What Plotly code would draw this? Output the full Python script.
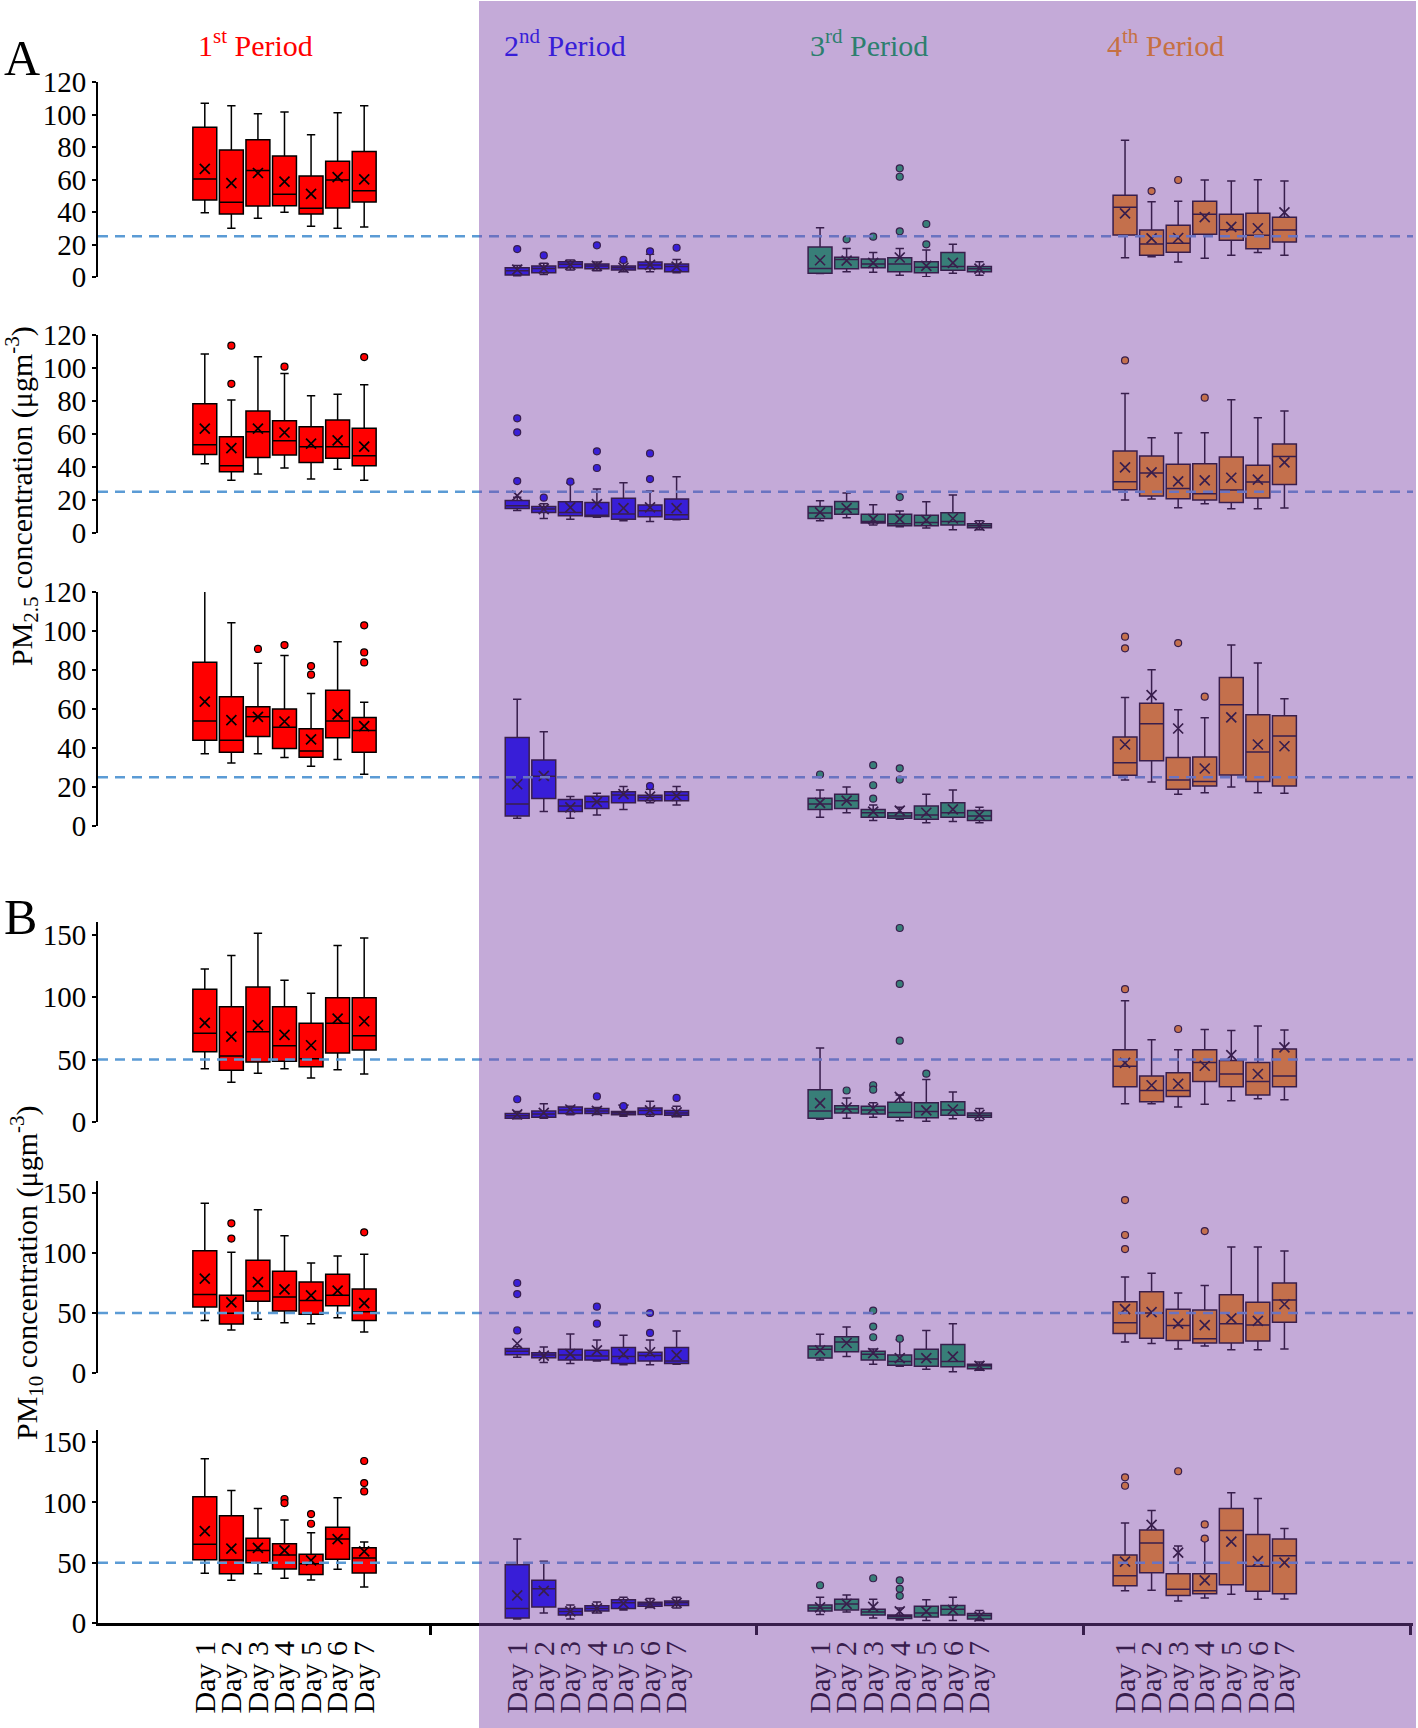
import plotly.graph_objects as go

# ---------------- data ----------------
DAYS = ["Day 1", "Day 2", "Day 3", "Day 4", "Day 5", "Day 6", "Day 7"]
PERIOD_TITLES = ["1<sup>st</sup> Period", "2<sup>nd</sup> Period", "3<sup>rd</sup> Period", "4<sup>th</sup> Period"]

# Panel A1 (PM2.5, top) -- each list: [period1, period2, period3, period4] x 7 days
A1_LO = [[39.6, 30.0, 36.1, 39.8, 31.2, 30.0, 30.8], [0.8, 1.6, 4.3, 3.9, 3.3, 3.3, 2.6],
         [2.2, 3.3, 2.9, 1.0, 0.2, 2.3, 1.0], [11.9, 12.5, 9.2, 11.5, 13.4, 15.0, 13.4]]
A1_Q1 = [[47.4, 38.8, 43.7, 43.9, 38.8, 42.5, 46.2], [1.2, 2.6, 5.7, 5.1, 4.3, 5.1, 3.3],
         [2.3, 5.1, 5.7, 3.3, 2.6, 4.1, 3.3], [25.8, 13.4, 15.2, 26.3, 22.6, 17.4, 21.5]]
A1_MED = [[60.3, 46.0, 65.6, 50.9, 42.3, 59.7, 53.1], [3.9, 5.3, 7.8, 6.8, 5.7, 7.4, 6.4],
          [5.3, 10.8, 8.0, 8.0, 6.0, 6.4, 5.1], [42.9, 20.3, 20.7, 38.6, 29.1, 25.7, 28.9]]
A1_Q3 = [[92.1, 78.2, 84.5, 74.5, 62.2, 71.2, 77.3], [5.7, 6.8, 9.4, 8.0, 6.8, 9.2, 8.0],
         [18.5, 12.1, 11.1, 11.9, 9.4, 15.0, 6.4], [50.3, 28.9, 31.8, 46.6, 38.6, 39.2, 36.7]]
A1_HI = [[106.9, 105.4, 100.5, 101.5, 87.6, 101.1, 105.4], [7.0, 8.4, 10.5, 9.2, 9.4, 14.0, 10.7],
         [30.3, 17.6, 15.0, 17.6, 16.6, 20.1, 9.4], [84.1, 46.3, 46.6, 59.7, 59.1, 59.9, 59.1]]
A1_MEAN = [[66.5, 57.8, 64.0, 58.7, 51.1, 61.5, 60.1], [4.5, 5.3, 7.4, 6.8, 5.7, 7.4, 6.4],
           [10.3, 10.1, 8.7, 12.0, 6.8, 8.7, 5.1], [39.2, 23.8, 24.0, 36.9, 30.8, 30.0, 39.8]]
A1_OUT = [(2, 1, 17.2), (2, 2, 13.3), (2, 4, 19.5), (2, 5, 10.5), (2, 6, 15.8), (2, 7, 18.0),
          (3, 2, 23.2), (3, 3, 24.8), (3, 4, 66.9), (3, 4, 61.7), (3, 4, 28.1), (3, 5, 32.6), (3, 5, 20.1),
          (4, 2, 52.9), (4, 3, 59.7)]

# Panel A2 (PM2.5, middle)
A2_LO = [[42.0, 31.9, 35.8, 39.4, 32.7, 38.6, 31.9], [13.7, 8.8, 8.4, 9.6, 7.4, 7.0, 8.0],
         [7.4, 9.2, 4.8, 3.8, 3.0, 2.0, 2.0], [20.0, 20.6, 15.3, 17.7, 14.7, 14.7, 15.1]]
A2_Q1 = [[47.6, 37.1, 45.7, 47.2, 42.7, 45.3, 40.7], [14.9, 12.5, 10.4, 10.0, 8.4, 9.8, 8.4],
         [8.8, 11.3, 6.0, 4.4, 4.4, 4.8, 3.2], [26.2, 22.4, 20.8, 20.0, 18.5, 21.2, 29.4]]
A2_MED = [[53.5, 40.7, 61.3, 55.9, 52.2, 52.2, 46.8], [16.5, 14.5, 12.5, 10.8, 11.5, 13.5, 11.1],
          [12.1, 14.5, 7.0, 5.6, 6.4, 7.0, 4.4], [31.1, 36.3, 27.0, 23.8, 26.0, 30.9, 46.4]]
A2_Q3 = [[78.4, 58.3, 73.9, 68.0, 64.4, 68.5, 63.5], [19.7, 16.1, 18.9, 18.5, 21.0, 16.9, 20.6],
         [16.1, 19.1, 11.3, 11.3, 10.8, 12.3, 5.6], [49.7, 46.6, 41.6, 42.0, 46.0, 41.0, 53.9]]
A2_HI = [[108.5, 80.6, 106.8, 96.6, 83.2, 84.1, 89.9], [21.6, 17.7, 30.3, 26.6, 30.5, 25.4, 34.1],
         [19.5, 24.2, 17.1, 13.3, 18.9, 23.0, 7.4], [84.6, 57.7, 60.6, 60.8, 80.8, 69.9, 73.9]]
A2_MEAN = [[63.2, 51.4, 63.3, 60.9, 54.2, 56.1, 52.4], [22.6, 14.5, 15.5, 17.5, 15.1, 15.5, 15.1],
           [12.5, 15.1, 8.4, 8.4, 7.8, 8.8, 4.4], [39.8, 36.7, 31.3, 31.9, 33.5, 32.3, 42.8]]
A2_OUT = [(1, 2, 113.5), (1, 2, 90.4), (1, 4, 100.8), (1, 7, 106.6),
          (2, 1, 69.5), (2, 1, 61.0), (2, 1, 31.5), (2, 2, 21.4), (2, 3, 31.1), (2, 4, 49.5), (2, 4, 39.4),
          (2, 6, 48.2), (2, 6, 32.7), (3, 4, 21.8), (4, 1, 104.6), (4, 4, 82.0)]

# Panel A3 (PM2.5, bottom)
A3_LO = [[37.1, 32.3, 37.1, 35.1, 30.7, 34.1, 26.6], [4.0, 7.4, 4.0, 5.7, 8.5, 11.9, 10.8],
         [4.5, 6.8, 2.8, 3.4, 1.7, 2.3, 1.7], [23.6, 22.6, 16.3, 17.1, 20.0, 17.1, 16.8]]
A3_Q1 = [[44.0, 37.8, 45.9, 39.8, 35.2, 45.3, 37.8], [5.1, 14.1, 7.4, 9.0, 11.9, 13.0, 13.0],
         [8.5, 9.0, 4.5, 4.0, 3.4, 4.5, 2.8], [26.0, 33.4, 18.8, 20.5, 26.2, 22.8, 20.5]]
A3_MED = [[53.9, 44.0, 56.0, 50.6, 38.4, 53.9, 49.0], [11.3, 25.5, 10.2, 12.4, 15.9, 14.6, 15.8],
          [11.3, 13.0, 6.8, 5.1, 5.7, 6.8, 5.1], [32.4, 52.4, 23.6, 22.8, 62.2, 38.0, 46.2]]
A3_Q3 = [[84.0, 66.3, 61.1, 60.0, 49.9, 69.6, 55.6], [45.4, 33.9, 13.6, 15.3, 17.6, 15.8, 17.6],
         [14.2, 16.3, 8.5, 6.8, 10.2, 11.9, 7.9], [45.7, 63.0, 35.1, 35.4, 76.2, 57.0, 56.5]]
A3_HI = [[120.5, 104.2, 83.5, 87.5, 67.9, 94.5, 63.5], [65.0, 48.3, 15.1, 16.8, 20.2, 18.8, 20.2],
         [18.5, 20.0, 10.8, 9.6, 16.3, 18.5, 9.6], [65.9, 80.1, 59.6, 55.5, 92.8, 83.6, 65.2]]
A3_MEAN = [[63.8, 54.3, 56.0, 53.6, 44.4, 57.2, 51.2], [21.4, 25.7, 9.6, 12.4, 16.3, 15.1, 15.4],
           [11.9, 13.0, 7.4, 7.9, 6.8, 8.5, 5.7], [41.8, 67.1, 50.0, 29.5, 55.7, 41.8, 40.9]]
A3_OUT = [(1, 3, 90.8), (1, 4, 92.8), (1, 5, 82.0), (1, 5, 77.6), (1, 7, 102.9), (1, 7, 89.0), (1, 7, 83.9),
          (2, 6, 20.5), (3, 1, 26.4), (3, 3, 31.2), (3, 3, 20.9), (3, 3, 14.0), (3, 4, 29.6), (3, 4, 23.8),
          (4, 1, 97.1), (4, 1, 91.1), (4, 3, 93.8), (4, 4, 66.3)]

# Panel B1 (PM10, top)
B1_LO = [[42.7, 31.8, 39.0, 42.7, 35.2, 41.9, 38.4], [2.7, 3.0, 5.8, 6.1, 4.6, 4.6, 4.2],
         [2.3, 3.1, 3.9, 1.1, 0.7, 2.7, 1.2], [14.7, 14.7, 12.0, 14.3, 17.0, 18.6, 17.8]]
B1_Q1 = [[56.3, 41.4, 48.0, 48.6, 44.3, 55.2, 57.6], [3.1, 3.9, 6.9, 6.9, 5.8, 6.1, 5.4],
         [3.1, 7.3, 6.5, 3.9, 3.4, 5.4, 3.9], [28.3, 16.2, 20.5, 32.5, 28.3, 21.7, 28.3]]
B1_MED = [[71.0, 52.8, 72.3, 61.1, 50.7, 79.0, 69.1], [5.0, 6.5, 9.6, 8.9, 7.3, 9.3, 7.3],
          [8.9, 10.4, 9.6, 7.7, 8.5, 9.6, 5.4], [44.6, 25.2, 25.2, 47.7, 38.4, 32.5, 36.8]]
B1_Q3 = [[106.2, 92.3, 108.1, 92.3, 79.0, 99.5, 99.5], [6.9, 8.9, 12.0, 10.8, 8.5, 11.2, 9.3],
         [25.9, 13.1, 12.7, 15.9, 15.5, 16.2, 7.3], [57.8, 36.8, 39.5, 57.8, 49.2, 47.7, 58.5]]
B1_HI = [[122.5, 133.2, 151.0, 113.4, 103.0, 141.2, 147.3], [8.5, 14.7, 12.7, 11.6, 11.6, 16.6, 12.7],
         [59.3, 19.3, 15.5, 21.7, 34.1, 24.0, 10.8], [97.0, 65.9, 57.8, 74.1, 73.3, 76.8, 73.7]]
B1_MEAN = [[79.3, 68.3, 77.4, 69.7, 61.4, 82.7, 80.6], [6.1, 7.3, 10.0, 8.9, 10.0, 9.3, 7.7],
           [15.1, 11.6, 10.8, 20.1, 9.3, 10.0, 5.8], [47.3, 29.4, 30.6, 45.0, 53.5, 38.4, 59.7]]
B1_OUT = [(2, 1, 18.2), (2, 4, 20.5), (2, 5, 12.7), (2, 7, 19.3),
          (3, 2, 25.2), (3, 3, 29.4), (3, 3, 25.9), (3, 4, 155.2), (3, 4, 110.5), (3, 4, 65.1), (3, 5, 38.7),
          (4, 1, 106.3), (4, 3, 74.4)]

# Panel B2 (PM10, middle)
B2_LO = [[43.8, 35.8, 44.7, 41.9, 41.1, 46.1, 34.2], [13.2, 8.8, 8.0, 10.0, 6.8, 6.8, 7.2],
         [10.8, 13.7, 7.2, 5.6, 3.1, 1.1, 2.3], [25.8, 24.6, 20.1, 22.5, 19.3, 19.3, 20.1]]
B2_Q1 = [[55.0, 40.8, 59.7, 51.7, 48.9, 56.1, 43.8], [15.3, 12.8, 10.8, 10.8, 8.0, 10.0, 8.0],
         [12.4, 17.7, 10.8, 6.4, 5.6, 5.2, 3.6], [33.0, 29.0, 27.0, 25.0, 25.0, 26.6, 42.3]]
B2_MED = [[65.5, 49.7, 68.3, 63.3, 60.5, 64.7, 51.1], [18.1, 14.9, 14.9, 14.1, 13.7, 14.5, 10.0],
          [19.7, 25.8, 15.7, 9.6, 11.6, 9.6, 6.0], [41.9, 50.0, 39.5, 28.6, 41.1, 39.9, 60.9]]
B2_Q3 = [[101.9, 64.7, 93.9, 84.7, 75.8, 82.2, 70.0], [20.5, 16.9, 19.7, 18.9, 21.3, 17.3, 21.3],
         [22.5, 30.2, 18.1, 14.9, 19.7, 23.7, 7.2], [59.3, 67.8, 53.2, 52.4, 65.3, 58.9, 75.0]]
B2_HI = [[141.4, 100.6, 136.1, 114.4, 91.7, 97.5, 98.9], [22.0, 21.7, 32.6, 27.4, 31.4, 27.4, 35.1],
         [32.2, 38.3, 20.1, 27.8, 35.5, 41.1, 9.2], [79.9, 83.1, 66.6, 73.0, 104.9, 104.9, 101.7]]
B2_MEAN = [[78.6, 58.8, 75.8, 69.7, 64.7, 68.6, 58.3], [24.6, 14.5, 15.7, 18.9, 15.7, 17.3, 14.9],
           [18.9, 25.0, 16.5, 12.4, 12.4, 13.7, 6.0], [53.2, 50.8, 41.1, 39.9, 45.6, 43.5, 57.3]]
B2_OUT = [(1, 2, 124.7), (1, 2, 112.0), (1, 7, 117.2),
          (2, 1, 75.0), (2, 1, 65.8), (2, 1, 35.5), (2, 4, 55.3), (2, 4, 41.1), (2, 6, 50.0), (2, 6, 33.4),
          (3, 3, 52.0), (3, 3, 38.7), (3, 3, 29.8), (3, 4, 28.6),
          (4, 1, 144.1), (4, 1, 115.0), (4, 1, 103.3), (4, 4, 118.3)]

# Panel B3 (PM10, bottom)
B3_LO = [[41.2, 35.4, 40.9, 37.0, 35.6, 44.5, 29.8], [3.3, 8.3, 3.3, 8.3, 10.8, 12.9, 12.5],
         [7.1, 9.2, 4.2, 2.5, 2.1, 2.1, 2.1], [26.7, 27.1, 18.3, 20.8, 23.8, 19.6, 20.0]]
B3_Q1 = [[52.5, 40.9, 50.0, 44.8, 40.3, 52.8, 41.4], [4.2, 13.3, 6.7, 10.0, 12.1, 13.8, 14.6],
         [10.0, 10.8, 6.7, 3.8, 5.0, 6.7, 3.3], [30.8, 41.7, 22.9, 24.2, 31.7, 26.3, 24.2]]
B3_MED = [[65.2, 52.2, 60.2, 56.4, 49.2, 69.6, 53.9], [12.1, 28.3, 9.6, 12.1, 16.7, 15.8, 16.7],
          [12.5, 15.8, 9.2, 5.4, 8.3, 11.3, 6.3], [39.2, 66.3, 27.9, 26.7, 76.7, 47.1, 55.8]]
B3_Q3 = [[104.7, 88.9, 70.2, 65.7, 56.9, 79.3, 62.4], [48.3, 35.4, 12.1, 14.2, 19.2, 17.1, 18.3],
         [15.0, 19.6, 11.3, 6.7, 13.8, 14.6, 7.9], [56.3, 77.1, 40.8, 40.8, 95.0, 73.3, 69.6]]
B3_HI = [[136.2, 109.9, 95.0, 85.4, 74.9, 103.9, 67.1], [69.6, 51.2, 15.0, 17.5, 21.3, 20.4, 21.3],
         [21.3, 23.3, 19.6, 12.5, 19.2, 21.3, 10.4], [82.9, 93.3, 63.8, 68.8, 107.9, 103.3, 78.3]]
B3_MEAN = [[76.2, 61.6, 62.2, 60.2, 51.9, 69.6, 59.4], [22.9, 26.7, 9.6, 12.1, 16.3, 15.8, 16.7],
           [12.9, 15.8, 13.3, 9.6, 9.6, 10.8, 5.4], [50.8, 81.3, 58.3, 35.4, 67.5, 51.3, 50.0]]
B3_OUT = [(1, 4, 102.8), (1, 4, 99.4), (1, 5, 90.3), (1, 5, 82.3), (1, 7, 134.3), (1, 7, 116.0), (1, 7, 109.1),
          (3, 1, 31.3), (3, 3, 37.1), (3, 4, 35.4), (3, 4, 28.3), (3, 4, 22.5),
          (4, 1, 120.8), (4, 1, 113.8), (4, 3, 125.8), (4, 4, 81.7), (4, 4, 70.0)]

PM25_LIMIT = 25
PM10_LIMIT = 50

# ---------------- style / layout constants ----------------
W, H = 1418, 1728
FONT = "Liberation Serif"
BOX_COLORS = ["#FF0000", "#0000FF", "#00B050", "#FF9600"]
TITLE_COLORS = ["#FF0000", "rgb(56,30,216)", "rgb(45,127,110)", "rgb(198,112,66)"]
TITLE_X = [255, 565, 869, 1165]
X_L, X_R = 98, 1413
XMAX = 49.5
PERIOD_CENTER = [7.02, 18.78, 30.18, 41.66]
BOUNDS = [12.5, 24.8, 37.11, 49.42]

panels = [
    dict(lo=A1_LO, q1=A1_Q1, med=A1_MED, q3=A1_Q3, hi=A1_HI, mean=A1_MEAN, out=A1_OUT,
         ymax=120, ticks=[0, 20, 40, 60, 80, 100, 120], limit=PM25_LIMIT, top=82, bottom=277),
    dict(lo=A2_LO, q1=A2_Q1, med=A2_MED, q3=A2_Q3, hi=A2_HI, mean=A2_MEAN, out=A2_OUT,
         ymax=120, ticks=[0, 20, 40, 60, 80, 100, 120], limit=PM25_LIMIT, top=335, bottom=533),
    dict(lo=A3_LO, q1=A3_Q1, med=A3_MED, q3=A3_Q3, hi=A3_HI, mean=A3_MEAN, out=A3_OUT,
         ymax=120, ticks=[0, 20, 40, 60, 80, 100, 120], limit=PM25_LIMIT, top=592, bottom=826),
    dict(lo=B1_LO, q1=B1_Q1, med=B1_MED, q3=B1_Q3, hi=B1_HI, mean=B1_MEAN, out=B1_OUT,
         ymax=160, ticks=[0, 50, 100, 150], limit=PM10_LIMIT, top=922, bottom=1122),
    dict(lo=B2_LO, q1=B2_Q1, med=B2_MED, q3=B2_Q3, hi=B2_HI, mean=B2_MEAN, out=B2_OUT,
         ymax=160, ticks=[0, 50, 100, 150], limit=PM10_LIMIT, top=1181, bottom=1373),
    dict(lo=B3_LO, q1=B3_Q1, med=B3_MED, q3=B3_Q3, hi=B3_HI, mean=B3_MEAN, out=B3_OUT,
         ymax=160, ticks=[0, 50, 100, 150], limit=PM10_LIMIT, top=1430, bottom=1623),
]

fig = go.Figure()
all_pos = [PERIOD_CENTER[k] + d - 3 for k in range(4) for d in range(7)]
all_txt = DAYS * 4
shapes = []
layout_axes = {}

for i, p in enumerate(panels, start=1):
    xa = "x" if i == 1 else f"x{i}"
    ya = "y" if i == 1 else f"y{i}"
    for k in range(4):
        xs = [PERIOD_CENTER[k] + d - 3 for d in range(7)]
        fig.add_trace(go.Box(
            x=xs, q1=p["q1"][k], median=p["med"][k], q3=p["q3"][k],
            lowerfence=p["lo"][k], upperfence=p["hi"][k],
            width=0.9, whiskerwidth=0.35, boxpoints=False,
            fillcolor=BOX_COLORS[k], line=dict(color="black", width=1.5),
            xaxis=xa, yaxis=ya, showlegend=False, hoverinfo="skip"))
        fig.add_trace(go.Scatter(
            x=xs, y=p["mean"][k], mode="markers",
            marker=dict(symbol="x-thin", size=10, line=dict(width=1.7, color="black")),
            xaxis=xa, yaxis=ya, showlegend=False, hoverinfo="skip"))
        ox = [PERIOD_CENTER[k] + d - 4 for (pp, d, v) in p["out"] if pp == k + 1]
        oy = [v for (pp, d, v) in p["out"] if pp == k + 1]
        if ox:
            fig.add_trace(go.Scatter(
                x=ox, y=oy, mode="markers",
                marker=dict(symbol="circle", size=7, color=BOX_COLORS[k],
                            line=dict(width=1.2, color="black")),
                xaxis=xa, yaxis=ya, showlegend=False, hoverinfo="skip", cliponaxis=False))
    last = (i == len(panels))
    xdict = dict(domain=[X_L / W, X_R / W], range=[0, XMAX], anchor=ya,
                 showgrid=False, zeroline=False, showline=last, linecolor="black", linewidth=3,
                 tickmode="array", tickvals=all_pos, ticktext=all_txt, tickangle=-90,
                 showticklabels=last, ticks="", ticklabelstandoff=3,
                 tickfont=dict(family=FONT, size=30, color="black"))
    if last:
        xdict["minor"] = dict(tickmode="array", tickvals=BOUNDS, ticks="outside",
                              ticklen=9, tickwidth=2.5, tickcolor="black", showgrid=False)
    ydict = dict(domain=[1 - p["bottom"] / H, 1 - p["top"] / H], range=[0, p["ymax"]], anchor=xa,
                 showgrid=False, zeroline=False, showline=True, linecolor="black", linewidth=2,
                 tickmode="array", tickvals=p["ticks"], ticks="outside", ticklen=4, tickwidth=2,
                 tickcolor="black", tickfont=dict(family=FONT, size=29, color="black"))
    layout_axes["xaxis" if i == 1 else f"xaxis{i}"] = xdict
    layout_axes["yaxis" if i == 1 else f"yaxis{i}"] = ydict
    shapes.append(dict(type="line", xref="paper", yref=ya, x0=X_L / W, x1=X_R / W,
                       y0=p["limit"], y1=p["limit"], layer="above",
                       line=dict(color="#5B9BD5", width=2.5, dash="10px,7px")))

# purple translucent overlay for periods 2-4
shapes.append(dict(type="rect", xref="paper", yref="paper", x0=479 / W, x1=1416 / W,
                   y0=0, y1=1 - 1 / H, layer="above", line=dict(width=0),
                   fillcolor="rgba(124,67,169,0.45)"))

annotations = []
for k in range(4):
    annotations.append(dict(text=PERIOD_TITLES[k], x=TITLE_X[k] / W, y=1 - 43 / H, xref="paper", yref="paper",
                            showarrow=False, xanchor="center", yanchor="middle",
                            font=dict(family=FONT, size=30, color=TITLE_COLORS[k])))
annotations.append(dict(text="A", x=2 / W, y=1 - 58 / H, xref="paper", yref="paper", showarrow=False,
                        xanchor="left", yanchor="middle", font=dict(family=FONT, size=50, color="black")))
annotations.append(dict(text="B", x=2 / W, y=1 - 917 / H, xref="paper", yref="paper", showarrow=False,
                        xanchor="left", yanchor="middle", font=dict(family=FONT, size=50, color="black")))
annotations.append(dict(text="PM<sub>2.5</sub> concentration (μgm<sup>-3</sup>)", textangle=-90,
                        x=22 / W, y=1 - 496 / H, xref="paper", yref="paper", showarrow=False,
                        xanchor="center", yanchor="middle", font=dict(family=FONT, size=30, color="black")))
annotations.append(dict(text="PM<sub>10</sub> concentration (μgm<sup>-3</sup>)", textangle=-90,
                        x=26 / W, y=1 - 1273 / H, xref="paper", yref="paper", showarrow=False,
                        xanchor="center", yanchor="middle", font=dict(family=FONT, size=30, color="black")))

fig.update_layout(width=W, height=H, margin=dict(l=0, r=0, t=0, b=0, autoexpand=False),
                  paper_bgcolor="white", plot_bgcolor="rgba(0,0,0,0)",
                  shapes=shapes, annotations=annotations, showlegend=False, **layout_axes)

fig.write_html("out.html", config={"displayModeBar": False},
               post_script="document.body.style.margin='0px';")
